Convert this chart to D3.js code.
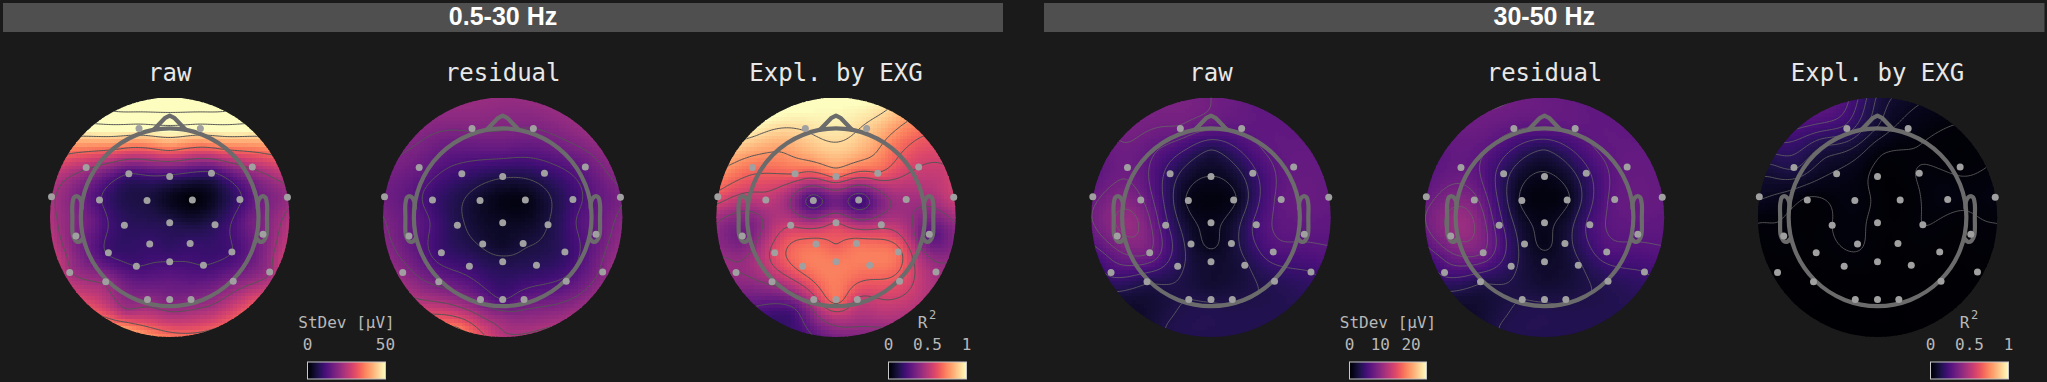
<!DOCTYPE html>
<html>
<head>
<meta charset="utf-8">
<script src="https://cdn.jsdelivr.net/npm/d3@7"></script>
<style>
  html, body { margin: 0; padding: 0; background: #1a1a1a; overflow: hidden; }
</style>
</head>
<body>
<svg id="chart" width="2047" height="382"></svg>
<script>
// sensor layout, head radius = 1
const sensorNames = ["Fp1","Fp2","F7","F3","Fz","F4","F8","FT9","FC5","FC1","FC2","FC6","FT10","T7","C3","Cz","C4","T8","CP5","CP1","CP2","CP6","TP9","P3","Pz","P4","TP10","P7","O1","Oz","O2","P8"];
const sensorX = [-.345,.345,-.94,-.46,0,.47,.93,-1.33,-.79,-.255,.255,.79,1.325,-1.055,-.51,0,.51,1.05,-.69,-.225,.23,.70,-1.125,-.375,0,.38,1.125,-.72,-.25,0,.24,.715];
const sensorY = [1,1,.56,.49,.46,.495,.565,.23,.195,.19,.195,.2,.225,-.21,-.09,-.06,-.083,-.19,-.4,-.3,-.295,-.39,-.62,-.55,-.5,-.54,-.615,-.725,-.925,-.925,-.925,-.72];
// extra read-off spots between the sensors and on the rim
const extraX = [0,.51,.95,1.24,1.34,1.24,.95,.51,0,-.51,-.95,-1.24,-1.34,-1.24,-.95,-.51, 0,-.62,.62,0,0,-.5,.5, -.9,.9,0,0,0];
const extraY = [1.34,1.24,.95,.51,0,-.51,-.95,-1.24,-1.34,-1.24,-.95,-.51,0,.51,.95,1.24, 1.02,.78,.78,.78,-1.12,-1.08,-1.08, -.05,-.05,-.3,.2,-.72];

// values as fraction of colour range: sensors first, then the extra spots
const rawLow = [1.02,1.02,.47,.22,.2,.2,.47,.47,.23,.12,.02,.21,.42,.36,.17,.14,.16,.36,.21,.19,.19,.22,.46,.22,.22,.22,.44,.43,.4,.36,.38,.37,
  1.55,1.4,.95,.52,.48,.52,.62,.66,.72,.78,.6,.52,.48,.52,.95,1.4, 1.08,.7,.7,.72,.5,.5,.52, .33,.33,.17,.06,.3];
const residualLow = [.37,.36,.31,.2,.13,.18,.3,.33,.2,.08,.04,.2,.35,.3,.14,.07,.12,.3,.2,.11,.11,.18,.4,.2,.14,.16,.38,.33,.33,.24,.3,.26,
  .42,.42,.42,.38,.38,.42,.42,.48,.5,.72,.5,.4,.36,.34,.38,.42, .37,.3,.32,.3,.42,.55,.4, .27,.27,.08,.04,.18];
const explLow = [.93,.9,.7,.66,.68,.65,.56,.62,.52,.22,.2,.45,.55,.33,.55,.56,.52,.28,.6,.7,.7,.69,.42,.7,.73,.72,.45,.45,.52,.7,.55,.62,
  1.02,.95,.68,.55,.45,.42,.5,.42,.35,.2,.3,.43,.45,.75,.95,1.02, .96,.8,.72,.9,.5,.22,.5, .38,.4,.66,.33,.73];
const rawHigh = [.32,.285,.32,.17,.06,.18,.3,.31,.34,.05,.05,.29,.3,.38,.22,.05,.22,.28,.33,.1,.1,.24,.22,.15,.09,.12,.2,.14,.13,.125,.125,.15,
  .33,.29,.29,.3,.29,.24,.15,.14,.14,.13,.09,.22,.33,.29,.34,.35, .29,.28,.28,.14,.145,.12,.14, .42,.29,.05,.03,.09];
const residualHigh = [.28,.285,.3,.16,.05,.18,.3,.3,.35,.05,.05,.29,.3,.4,.23,.05,.22,.28,.33,.1,.1,.24,.22,.15,.08,.12,.2,.14,.13,.125,.125,.15,
  .31,.29,.29,.3,.29,.24,.15,.14,.14,.13,.09,.22,.33,.28,.31,.33, .28,.27,.28,.14,.145,.12,.14, .43,.29,.05,.03,.09];
const explHigh = [.18,.04,.13,.05,.012,.022,.015,.06,.015,.03,.005,.03,.03,.018,.02,.012,.02,.015,.01,.024,.008,.008,.006,.01,.008,.008,.008,.006,.004,.004,.004,.005,
  .12,.05,.015,.022,.022,.01,.005,.004,.003,.003,.004,.008,.025,.1,.22,.27, .09,.12,.015,.035,.004,.003,.004, .012,.012,.01,.015,.006];

const levelsRawLow = [.22,.45,.67,.9,1.1,1.32];
const levelsResidualLow = [.12,.24,.36,.48,.6,.72];
const levelsExplLow = [.27,.42,.56,.66,.78,.92];
const levelsRawHigh = [.06,.13,.2,.27,.33,.4];
const levelsResidualHigh = [.06,.13,.2,.27,.33,.4];
const levelsExplHigh = [.02,.055,.09,.125,.16,.195,.23];

const bandNames = ["0.5-30 Hz", "30-50 Hz"];
const panelTitles = ["raw", "residual", "Expl. by EXG", "raw", "residual", "Expl. by EXG"];
const stdevTicksLow = [0, 50];
const stdevTicksHigh = [0, 10, 20];
const r2Ticks = [0, 0.5, 1];

// nose and ear outlines
const noseX = [-.18,-.05,0,.05,.18];
const noseY = [.985,1.12,1.145,1.12,.985];
const earX = [.99,1,1.035,1.075,1.095,1.095,1.09,1.06,1.02,.98];
const earY = [.1,.19,.235,.225,.15,0,-.2,-.262,-.277,-.24];

const panels = [
  { cx: 169.7, values: rawLow, levels: levelsRawLow },
  { cx: 502.7, values: residualLow, levels: levelsResidualLow },
  { cx: 836, values: explLow, levels: levelsExplLow },
  { cx: 1211, values: rawHigh, levels: levelsRawHigh },
  { cx: 1544.5, values: residualHigh, levels: levelsResidualHigh },
  { cx: 1877.5, values: explHigh, levels: levelsExplHigh }
];

const cy = 217.3;
const outerPx = 119.7;
const outer = 1.347;
const res = 64;
const color = d3.scaleSequential(d3.interpolateMagma).domain([0, 1]).clamp(true);
const mono = "'DejaVu Sans Mono', monospace";
const svg = d3.select("#chart");

// thin plate spline through the read-off values
function fitSurface(xs, ys, vs) {
  const n = xs.length;
  const size = n + 3;
  const A = d3.range(size).map(() => new Array(size + 1).fill(0));
  for (let i = 0; i < n; i++) {
    for (let j = 0; j < n; j++) A[i][j] = kernel(xs[i] - xs[j], ys[i] - ys[j]);
    A[i][n] = 1; A[i][n + 1] = xs[i]; A[i][n + 2] = ys[i];
    A[n][i] = 1; A[n + 1][i] = xs[i]; A[n + 2][i] = ys[i];
    A[i][size] = vs[i];
  }
  for (let c = 0; c < size; c++) {
    let p = c;
    for (let r = c + 1; r < size; r++) if (Math.abs(A[r][c]) > Math.abs(A[p][c])) p = r;
    [A[c], A[p]] = [A[p], A[c]];
    for (let r = c + 1; r < size; r++) {
      const f = A[r][c] / A[c][c];
      for (let k = c; k <= size; k++) A[r][k] -= f * A[c][k];
    }
  }
  const w = new Array(size).fill(0);
  for (let r = size - 1; r >= 0; r--) {
    let s = A[r][size];
    for (let k = r + 1; k < size; k++) s -= A[r][k] * w[k];
    w[r] = s / A[r][r];
  }
  return function (x, y) {
    let out = w[n] + w[n + 1] * x + w[n + 2] * y;
    for (let i = 0; i < n; i++) out += w[i] * kernel(x - xs[i], y - ys[i]);
    return out;
  };
}

function kernel(dx, dy) {
  const d2 = dx * dx + dy * dy;
  return d2 === 0 ? 0 : d2 * Math.log(d2) / 2;
}

const allX = sensorX.concat(extraX);
const allY = sensorY.concat(extraY);
const defs = svg.append("defs");

panels.forEach(function (panel, idx) {
  const x = d3.scaleLinear().domain([-outer, outer]).range([panel.cx - outerPx, panel.cx + outerPx]);
  const y = d3.scaleLinear().domain([-outer, outer]).range([cy + outerPx, cy - outerPx]);
  const surface = fitSurface(allX, allY, panel.values);

  defs.append("clipPath").attr("id", "clip" + idx)
    .append("circle").attr("cx", x(0)).attr("cy", y(0)).attr("r", outerPx);

  const g = svg.append("g");
  const clipped = g.append("g").attr("clip-path", `url(#clip${idx})`);

  // image cells
  const step = 2 * outer / res;
  const cells = [];
  d3.range(res).forEach(function (i) {
    d3.range(res).forEach(function (j) {
      const u = -outer + (i + 0.5) * step;
      const v = -outer + (j + 0.5) * step;
      if (u * u + v * v < (outer + step) * (outer + step)) cells.push({ u, v, val: surface(u, v) });
    });
  });
  const cellPx = x(step) - x(0);
  clipped.append("g").attr("shape-rendering", "crispEdges")
    .selectAll("rect").data(cells).join("rect")
    .attr("x", d => x(d.u - step / 2))
    .attr("y", d => y(d.v + step / 2))
    .attr("width", cellPx + 0.6)
    .attr("height", cellPx + 0.6)
    .attr("fill", d => color(d.val));

  // contour lines on a finer grid that reaches past the rim
  const fine = 160;
  const span = 1.5;
  const fineX = d3.scaleLinear().domain([0, fine - 1]).range([-span, span]);
  const field = new Array(fine * fine);
  for (let j = 0; j < fine; j++) {
    for (let i = 0; i < fine; i++) field[j * fine + i] = surface(fineX(i), -fineX(j));
  }
  const toPx = d3.geoTransform({
    point(a, b) {
      this.stream.point(x(fineX(a - 0.5)), y(-fineX(b - 0.5)));
    }
  });
  clipped.append("g").selectAll("path")
    .data(d3.contours().size([fine, fine]).thresholds(panel.levels)(field))
    .join("path")
    .attr("d", d3.geoPath(toPx))
    .attr("fill", "none")
    .attr("stroke", idx > 2 ? "#666" : "#555")
    .attr("stroke-width", idx > 2 ? 0.8 : 1);

  // head outline
  const outline = d3.line().x(d => x(d[0])).y(d => y(d[1]));
  const head = g.append("g").attr("fill", "none").attr("stroke", "#6b6b6b")
    .attr("stroke-width", 4.2).attr("stroke-linejoin", "round").attr("stroke-linecap", "round");
  head.append("circle").attr("cx", x(0)).attr("cy", y(0)).attr("r", x(1) - x(0));
  head.append("path").attr("d", outline(noseX.map((d, i) => [d, noseY[i]])));
  outline.curve(d3.curveCatmullRom);
  head.append("path").attr("d", outline(earX.map((d, i) => [d, earY[i]])));
  head.append("path").attr("d", outline(earX.map((d, i) => [-d, earY[i]])));

  g.append("g").selectAll("circle").data(sensorNames).join("circle")
    .attr("cx", (d, i) => x(sensorX[i]))
    .attr("cy", (d, i) => y(sensorY[i]))
    .attr("r", 3.5)
    .attr("fill", "#a0a0a0");

  svg.append("text").attr("x", panel.cx).attr("y", 81)
    .attr("text-anchor", "middle").attr("font-family", mono).attr("font-size", 24)
    .attr("fill", "#e8e8e8").text(panelTitles[idx]);
});

// band headers
[[3, 1003], [1044, 2044.5]].forEach(function (ext, i) {
  svg.append("rect").attr("x", ext[0]).attr("y", 3).attr("width", ext[1] - ext[0]).attr("height", 29)
    .attr("fill", "#4f4f4f");
  svg.append("text").attr("x", (ext[0] + ext[1]) / 2).attr("y", 25)
    .attr("text-anchor", "middle").attr("font-family", "'Liberation Sans', sans-serif")
    .attr("font-weight", "bold").attr("font-size", 25).attr("fill", "#fff").text(bandNames[i]);
});

// colour bars
const gradient = defs.append("linearGradient").attr("id", "magma");
d3.range(0, 1.001, 0.05).forEach(function (t) {
  gradient.append("stop").attr("offset", t).attr("stop-color", d3.interpolateMagma(t));
});

function colorbar(x0, x1, domain, ticks, kind) {
  const scale = d3.scaleLinear().domain(domain).range([x0, x1]);
  const g = svg.append("g").attr("font-family", mono).attr("font-size", 16).attr("fill", "#b8b8b8");
  g.append("rect").attr("x", x0).attr("y", 362).attr("width", x1 - x0).attr("height", 17)
    .attr("fill", "url(#magma)").attr("stroke", "#c8c8c8").attr("stroke-width", 1);
  g.selectAll("text.tick").data(ticks).join("text").attr("class", "tick")
    .attr("x", d => scale(d)).attr("y", 350).attr("text-anchor", "middle").text(d => d);
  const mid = (x0 + x1) / 2;
  if (kind === "stdev") {
    g.append("text").attr("x", mid).attr("y", 327.5).attr("text-anchor", "middle").text("StDev [μV]");
  } else {
    g.append("text").attr("x", mid - 5).attr("y", 327.5).attr("text-anchor", "middle").text("R");
    g.append("text").attr("x", mid + 5).attr("y", 319).attr("font-size", 12).attr("text-anchor", "middle").text("2");
  }
}

colorbar(307.5, 385.5, [0, 50], stdevTicksLow, "stdev");
colorbar(888.5, 966.5, [0, 1], r2Ticks, "r2");
colorbar(1349.5, 1426.5, [0, 25], stdevTicksHigh, "stdev");
colorbar(1930.5, 2008.5, [0, 1], r2Ticks, "r2");
</script>
</body>
</html>
